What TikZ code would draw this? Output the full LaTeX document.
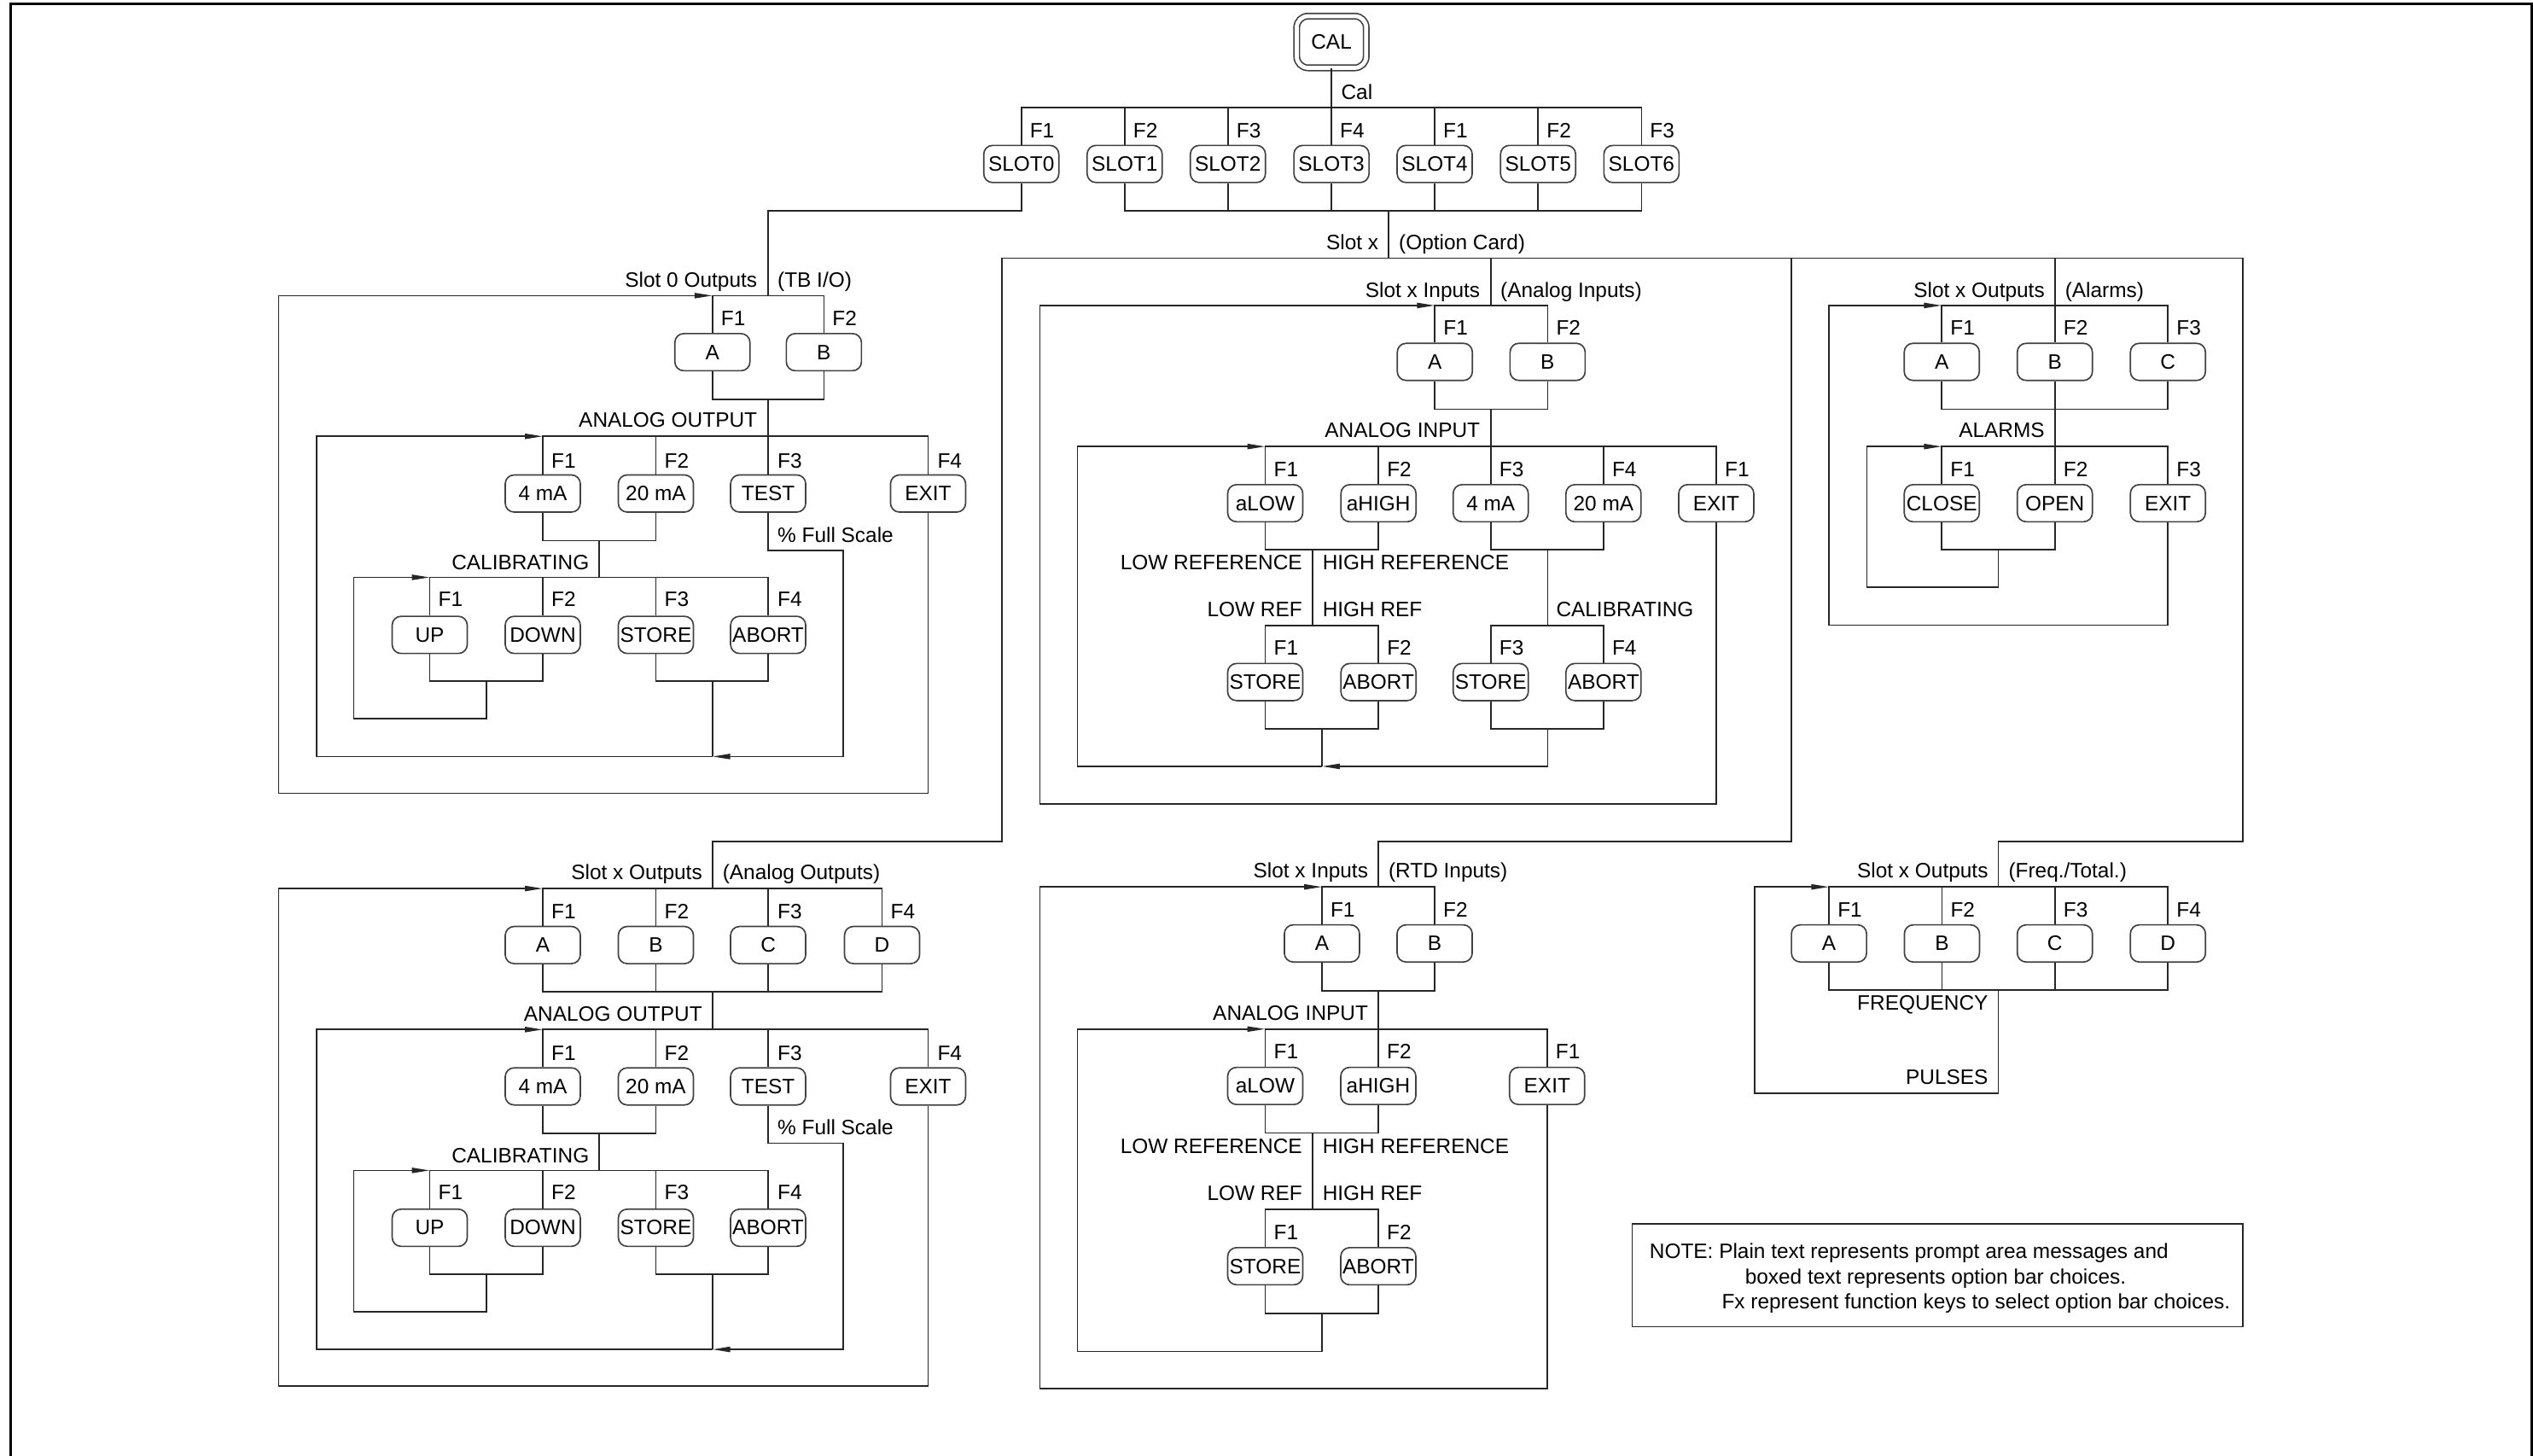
\documentclass[tikz,border=0pt]{standalone}
\usepackage{fontspec}
\setmainfont{Liberation Sans}
\usetikzlibrary{arrows.meta}
\newcommand\fs{\fontsize{7.34pt}{9pt}\selectfont}
\begin{document}
\begin{tikzpicture}[x=0.02cm,y=-0.02cm,
  ln/.style={draw=black!85,line width=0.5pt},
  kbox/.style={draw=black!75,line width=0.5pt,rounded corners=0.11cm,minimum width=0.93cm,minimum height=0.46cm,inner sep=0pt,font=\fs},
  txtW/.style={anchor=base west,inner sep=0pt,yshift=-2.63pt,font=\fs},
  txtE/.style={anchor=base east,inner sep=0pt,yshift=-2.63pt,font=\fs},
  arr/.style={-{Triangle[length=0.22cm,width=0.065cm]}},
  frm/.style={draw=black,line width=0.85pt}]
\useasboundingbox (0,0) rectangle (1568,901);
\draw[frm] (6.6,910) -- (6.6,2.6) -- (1567.2,2.6) -- (1567.2,910);

% ---------------- top ----------------
\node[kbox,double,double distance=0.05cm,minimum width=0.86cm,minimum height=0.64cm,rounded corners=0.14cm] (cal) at (824.2,26) {CAL};
\coordinate (tb) at (824.2,66.7);
\coordinate (bb) at (859.6,130.4);
\foreach \n/\x/\f in {0/632.2/F1,1/696.2/F2,2/760.1/F3,3/824.2/F4,4/888.1/F1,5/952.1/F2,6/1016.1/F3} {
  \node[kbox] (s\n) at (\x,101.5) {SLOT\n};
  \node[txtW] (sf\n) at (\x+5,80.7) {\f};
}
\node[txtW] (calt) at (829.9,57) {Cal};
\draw[ln] (cal) -- (tb);
\draw[ln] (s0.north) |- (tb) -| (s6.north);
\foreach \n in {1,...,5} \draw[ln] (s\n.north) -- (s\n.north |- tb);
\draw[ln] (s1.south) |- (bb) -| (s6.south);
\foreach \n in {2,...,5} \draw[ln] (s\n.south) -- (s\n.south |- bb);

\coordinate (ox) at (859.6,159.8);
\coordinate (bigL) at (620.3,159.8);
\coordinate (bigR) at (1388.4,159.8);
\draw[ln] (bb) -- (ox);
\draw[ln] (bigL) -- (bigR);
\node[txtE] (sxl) at (853.6,150) {Slot x};
\node[txtW] (sxr) at (865.6,150) {(Option Card)};

% ---------------- Slot 0 outputs ----------------
\coordinate (aTop) at (475.5,183);
\draw[ln] (s0.south) |- (475.5,130.4) -- (aTop);
\node[txtE] (ah1) at (469,173) {Slot 0 Outputs};
\node[txtW] (ah2) at (481,173) {(TB I/O)};
\node[kbox] (aA) at (441,218) {A};
\node[kbox] (aB) at (510,218) {B};
\node[txtW] (af1) at (446,197) {F1};
\node[txtW] (af2) at (515,197) {F2};
\draw[ln] (aA.north) |- (aTop) -| (aB.north);
\coordinate (aM) at (475.5,247.2);
\coordinate (aAO) at (475.5,270.1);
\draw[ln] (aA.south) |- (aM) -| (aB.south);
\draw[ln] (aM) -- (aAO);
\node[txtE] (aao) at (469,260) {ANALOG OUTPUT};
\node[kbox] (a4) at (336,305.5) {4 mA};
\node[kbox] (a20) at (406,305.5) {20 mA};
\node[kbox] (aT) at (475.5,305.5) {TEST};
\node[kbox] (aX) at (574.5,305.5) {EXIT};
\node[txtW] (ag1) at (341,285) {F1};
\node[txtW] (ag2) at (411,285) {F2};
\node[txtW] (ag3) at (481,285) {F3};
\node[txtW] (ag4) at (580,285) {F4};
\draw[ln] (a4.north) |- (aAO) -| (aX.north);
\draw[ln] (a20.north) -- (a20.north |- aAO);
\draw[ln] (aT.north) -- (aAO);
\coordinate (aCm) at (371,334.6);
\coordinate (aC) at (371,357.4);
\draw[ln] (a4.south) |- (aCm) -| (a20.south);
\draw[ln] (aCm) -- (aC);
\node[txtE] (acal) at (365,348) {CALIBRATING};
\node[txtW] (afs) at (481,331) {\% Full Scale};
\node[kbox] (aU) at (266,393) {UP};
\node[kbox] (aD) at (336,393) {DOWN};
\node[kbox] (aS) at (406,393) {STORE};
\node[kbox] (aAb) at (475.5,393) {ABORT};
\node[txtW] (ah1f) at (271,371) {F1};
\node[txtW] (ah2f) at (341,371) {F2};
\node[txtW] (ah3f) at (411,371) {F3};
\node[txtW] (ah4f) at (481,371) {F4};
\draw[ln] (aU.north) |- (aC) -| (aAb.north);
\draw[ln] (aD.north) -- (aD.north |- aC);
\draw[ln] (aS.north) -- (aS.north |- aC);
\coordinate (aUD) at (301,421.7);
\coordinate (aSA) at (441,421.7);
\coordinate (aR) at (441,468.3);
\draw[ln] (aU.south) |- (aUD) -| (aD.south);
\draw[ln,arr] (aUD) |- (219,445) |- (aU.north |- aC);
\draw[ln] (aS.south) |- (aSA) -| (aAb.south);
\draw[ln] (aSA) -- (aR);
\draw[ln,arr] (aT.south) |- (522,340.6) |- (aR);
\draw[ln,arr] (aR) -| (196,270.1) -- (a4.north |- aAO);
\draw[ln,arr] (aX.south) |- (172.5,491) |- (aA.north |- aTop);

% ---------------- Slot x analog outputs ----------------
\coordinate (bTop) at (441,550);
\draw[ln] (bigL) -- (620.3,520.8) -| (bTop);
\node[txtE] (bh1) at (435,540) {Slot x Outputs};
\node[txtW] (bh2) at (447,540) {(Analog Outputs)};
\node[kbox] (bA) at (336,585) {A};
\node[kbox] (bB) at (406,585) {B};
\node[kbox] (bCc) at (475.5,585) {C};
\node[kbox] (bDd) at (546,585) {D};
\node[txtW] (bf1) at (341,564) {F1};
\node[txtW] (bf2) at (411,564) {F2};
\node[txtW] (bf3) at (481,564) {F3};
\node[txtW] (bf4) at (551,564) {F4};
\draw[ln] (bA.north) |- (bTop) -| (bDd.north);
\draw[ln] (bB.north) -- (bB.north |- bTop);
\draw[ln] (bCc.north) -- (bCc.north |- bTop);
\coordinate (bM) at (441,613.9);
\coordinate (bAO) at (441,637.3);
\draw[ln] (bA.south) |- (bM) -| (bDd.south);
\draw[ln] (bB.south) -- (bB.south |- bM);
\draw[ln] (bCc.south) -- (bCc.south |- bM);
\draw[ln] (bM) -- (bAO);
\node[txtE] (bao) at (435,627.3) {ANALOG OUTPUT};
\node[kbox] (b4) at (336,672.5) {4 mA};
\node[kbox] (b20) at (406,672.5) {20 mA};
\node[kbox] (bT) at (475.5,672.5) {TEST};
\node[kbox] (bX) at (574.5,672.5) {EXIT};
\node[txtW] (bg1) at (341,652) {F1};
\node[txtW] (bg2) at (411,652) {F2};
\node[txtW] (bg3) at (481,652) {F3};
\node[txtW] (bg4) at (580,652) {F4};
\draw[ln] (b4.north) |- (bAO) -| (bX.north);
\draw[ln] (b20.north) -- (b20.north |- bAO);
\draw[ln] (bT.north) -- (bT.north |- bAO);
\coordinate (bCm) at (371,701.5);
\coordinate (bC) at (371,724.5);
\draw[ln] (b4.south) |- (bCm) -| (b20.south);
\draw[ln] (bCm) -- (bC);
\node[txtE] (bcal) at (365,715) {CALIBRATING};
\node[txtW] (bfs) at (481,698) {\% Full Scale};
\node[kbox] (bU) at (266,760) {UP};
\node[kbox] (bD) at (336,760) {DOWN};
\node[kbox] (bS) at (406,760) {STORE};
\node[kbox] (bAb) at (475.5,760) {ABORT};
\node[txtW] (bh1f) at (271,738) {F1};
\node[txtW] (bh2f) at (341,738) {F2};
\node[txtW] (bh3f) at (411,738) {F3};
\node[txtW] (bh4f) at (481,738) {F4};
\draw[ln] (bU.north) |- (bC) -| (bAb.north);
\draw[ln] (bD.north) -- (bD.north |- bC);
\draw[ln] (bS.north) -- (bS.north |- bC);
\coordinate (bUD) at (301,788.7);
\coordinate (bSA) at (441,788.7);
\coordinate (bR) at (441,835.3);
\draw[ln] (bU.south) |- (bUD) -| (bD.south);
\draw[ln,arr] (bUD) |- (219,812) |- (bU.north |- bC);
\draw[ln] (bS.south) |- (bSA) -| (bAb.south);
\draw[ln] (bSA) -- (bR);
\draw[ln,arr] (bT.south) |- (522,707.6) |- (bR);
\draw[ln,arr] (bR) -| (196,637.3) -- (b4.north |- bAO);
\draw[ln,arr] (bX.south) |- (172.5,858) |- (bA.north |- bTop);

% ---------------- Slot x analog inputs ----------------
\coordinate (cUp) at (922.8,159.8);
\coordinate (cTop) at (922.8,189.1);
\draw[ln] (cUp) -- (cTop);
\node[txtE] (ch1) at (916.5,179.3) {Slot x Inputs};
\node[txtW] (ch2) at (928.5,179.3) {(Analog Inputs)};
\node[kbox] (cA) at (888.2,224) {A};
\node[kbox] (cB) at (958,224) {B};
\node[txtW] (cf1) at (893.2,202.9) {F1};
\node[txtW] (cf2) at (963,202.9) {F2};
\draw[ln] (cA.north) |- (cTop) -| (cB.north);
\coordinate (cM) at (922.8,253.3);
\coordinate (cAI) at (922.8,276.4);
\draw[ln] (cA.south) |- (cM) -| (cB.south);
\draw[ln] (cM) -- (cAI);
\node[txtE] (cai) at (916.5,266) {ANALOG INPUT};
\node[kbox] (cL) at (783.2,311.5) {aLOW};
\node[kbox] (cH) at (853.3,311.5) {aHIGH};
\node[kbox] (c4) at (922.8,311.5) {4 mA};
\node[kbox] (c20) at (992.6,311.5) {20 mA};
\node[kbox] (cX) at (1062.4,311.5) {EXIT};
\node[txtW] (cg1) at (788.2,290.4) {F1};
\node[txtW] (cg2) at (858.3,290.4) {F2};
\node[txtW] (cg3) at (927.8,290.4) {F3};
\node[txtW] (cg4) at (997.6,290.4) {F4};
\node[txtW] (cg5) at (1067.4,290.4) {F1};
\draw[ln] (cL.north) |- (cAI) -| (cX.north);
\draw[ln] (cH.north) -- (cH.north |- cAI);
\draw[ln] (c20.north) -- (c20.north |- cAI);
\draw[ln] (c4.north) -- (cAI);
\coordinate (cLH) at (812.4,340.3);
\coordinate (cRef) at (812.4,387.1);
\draw[ln] (cL.south) |- (cLH) -| (cH.south);
\draw[ln] (cLH) -- (cRef);
\node[txtE] (clr) at (806.4,347.9) {LOW REFERENCE};
\node[txtW] (chr) at (818.4,347.9) {HIGH REFERENCE};
\node[txtE] (clr2) at (806.4,377) {LOW REF};
\node[txtW] (chr2) at (818.4,377) {HIGH REF};
\node[kbox] (cS1) at (783.2,422.2) {STORE};
\node[kbox] (cA1) at (853.3,422.2) {ABORT};
\node[txtW] (ch1f) at (788.2,400.6) {F1};
\node[txtW] (ch2f) at (858.3,400.6) {F2};
\draw[ln] (cS1.north) |- (cRef) -| (cA1.north);
\coordinate (c4m) at (958,340.3);
\coordinate (cCal) at (958,387.1);
\draw[ln] (c4.south) |- (c4m) -| (c20.south);
\draw[ln] (c4m) -- (cCal);
\node[txtW] (ccal) at (963,377) {CALIBRATING};
\node[kbox] (cS2) at (922.8,422.2) {STORE};
\node[kbox] (cA2) at (992.6,422.2) {ABORT};
\node[txtW] (ch3f) at (927.8,400.6) {F3};
\node[txtW] (ch4f) at (997.6,400.6) {F4};
\draw[ln] (cS2.north) |- (cCal) -| (cA2.north);
\coordinate (cB1) at (818.4,451);
\coordinate (cB2) at (958,451);
\coordinate (cR) at (818.4,474.4);
\draw[ln] (cS1.south) |- (cB1) -| (cA1.south);
\draw[ln] (cB1) -- (cR);
\draw[ln] (cS2.south) |- (cB2) -| (cA2.south);
\draw[ln,arr] (cB2) |- (cR);
\draw[ln,arr] (cR) -| (667,276.4) -- (cL.north |- cAI);
\draw[ln,arr] (cX.south) |- (643.7,497.7) |- (cA.north |- cTop);

% ---------------- Slot x alarms ----------------
\coordinate (dUp) at (1272,159.8);
\coordinate (dTop) at (1272,189.1);
\node[txtE] (dh1) at (1266,179.3) {Slot x Outputs};
\node[txtW] (dh2) at (1278,179.3) {(Alarms)};
\node[kbox] (dA) at (1202,224) {A};
\node[kbox] (dB) at (1272,224) {B};
\node[kbox] (dC) at (1342,224) {C};
\node[txtW] (df1) at (1207,202.9) {F1};
\node[txtW] (df2) at (1277,202.9) {F2};
\node[txtW] (df3) at (1347,202.9) {F3};
\draw[ln] (dA.north) |- (dTop) -| (dC.north);
\draw[ln] (dUp) -- (dB.north);
\coordinate (dM) at (1272,253.3);
\coordinate (dAl) at (1272,276.4);
\draw[ln] (dA.south) |- (dM) -| (dC.south);
\draw[ln] (dB.south) -- (dAl);
\node[txtE] (dal) at (1266,266) {ALARMS};
\node[kbox] (dCl) at (1202,311.5) {CLOSE};
\node[kbox] (dO) at (1272,311.5) {OPEN};
\node[kbox] (dX) at (1342,311.5) {EXIT};
\node[txtW] (dg1) at (1207,290.4) {F1};
\node[txtW] (dg2) at (1277,290.4) {F2};
\node[txtW] (dg3) at (1347,290.4) {F3};
\draw[ln] (dCl.north) |- (dAl) -| (dX.north);
\draw[ln] (dO.north) -- (dAl);
\coordinate (dCO) at (1237,340.2);
\draw[ln] (dCl.south) |- (dCO) -| (dO.south);
\draw[ln,arr] (dCO) |- (1155.7,363.6) |- (dCl.north |- dAl);
\draw[ln,arr] (dX.south) |- (1132.2,386.9) |- (dA.north |- dTop);

% ---------------- Slot x RTD inputs ----------------
\coordinate (eUp) at (1109,159.8);
\coordinate (eTop) at (853.2,549);
\draw[ln] (eUp) -- (1109,520.8) -| (eTop);
\node[txtE] (eh1) at (847.2,538.7) {Slot x Inputs};
\node[txtW] (eh2) at (859.2,538.7) {(RTD Inputs)};
\node[kbox] (eA) at (818.3,584) {A};
\node[kbox] (eB) at (888.1,584) {B};
\node[txtW] (ef1) at (823.3,562.9) {F1};
\node[txtW] (ef2) at (893.1,562.9) {F2};
\draw[ln] (eA.north) |- (eTop) -| (eB.north);
\coordinate (eM) at (853.2,613.4);
\coordinate (eAI) at (853.2,637);
\draw[ln] (eA.south) |- (eM) -| (eB.south);
\draw[ln] (eM) -- (eAI);
\node[txtE] (eai) at (847.2,627) {ANALOG INPUT};
\node[kbox] (eL) at (783.2,672.2) {aLOW};
\node[kbox] (eH) at (853.2,672.2) {aHIGH};
\node[kbox] (eX) at (957.7,672.2) {EXIT};
\node[txtW] (eg1) at (788.2,651) {F1};
\node[txtW] (eg2) at (858.2,651) {F2};
\node[txtW] (eg3) at (962.7,651) {F1};
\draw[ln] (eL.north) |- (eAI) -| (eX.north);
\draw[ln] (eH.north) -- (eAI);
\coordinate (eLH) at (812.4,701.4);
\coordinate (eRef) at (812.4,748.6);
\draw[ln] (eL.south) |- (eLH) -| (eH.south);
\draw[ln] (eLH) -- (eRef);
\node[txtE] (elr) at (806.4,709.3) {LOW REFERENCE};
\node[txtW] (ehr) at (818.4,709.3) {HIGH REFERENCE};
\node[txtE] (elr2) at (806.4,738.5) {LOW REF};
\node[txtW] (ehr2) at (818.4,738.5) {HIGH REF};
\node[kbox] (eS) at (783.2,783.8) {STORE};
\node[kbox] (eAb) at (853.2,783.8) {ABORT};
\node[txtW] (eh1f) at (788.2,762.5) {F1};
\node[txtW] (eh2f) at (858.2,762.5) {F2};
\draw[ln] (eS.north) |- (eRef) -| (eAb.north);
\coordinate (eB1) at (818.3,813.2);
\draw[ln] (eS.south) |- (eB1) -| (eAb.south);
\draw[ln,arr] (eB1) |- (666.9,836.5) |- (eL.north |- eAI);
\draw[ln,arr] (eX.south) |- (643.8,859.6) |- (eA.north |- eTop);

% ---------------- Slot x freq/total ----------------
\coordinate (fTop) at (1237,549);
\draw[ln] (bigR) -- (1388.4,520.8) -| (fTop);
\node[txtE] (fh1) at (1231,538.9) {Slot x Outputs};
\node[txtW] (fh2) at (1243,538.9) {(Freq./Total.)};
\node[kbox] (fA) at (1132.2,584) {A};
\node[kbox] (fB) at (1202.1,584) {B};
\node[kbox] (fC) at (1272,584) {C};
\node[kbox] (fD) at (1342,584) {D};
\node[txtW] (ff1) at (1137.2,563) {F1};
\node[txtW] (ff2) at (1207.1,563) {F2};
\node[txtW] (ff3) at (1277,563) {F3};
\node[txtW] (ff4) at (1347,563) {F4};
\draw[ln] (fA.north) |- (fTop) -| (fD.north);
\draw[ln] (fB.north) -- (fB.north |- fTop);
\draw[ln] (fC.north) -- (fC.north |- fTop);
\coordinate (fM) at (1237,613);
\draw[ln] (fA.south) |- (fM) -| (fD.south);
\draw[ln] (fB.south) -- (fB.south |- fM);
\draw[ln] (fC.south) -- (fC.south |- fM);
\draw[ln,arr] (fM) |- (1086,676.8) |- (fA.north |- fTop);
\node[txtE] (ffr) at (1231,620.4) {FREQUENCY};
\node[txtE] (fpu) at (1231,666.7) {PULSES};

% ---------------- note ----------------
\draw[ln] (1010.3,757.7) rectangle (1388.2,821.2);
\node[txtW] (n1) at (1020.8,774.4) {NOTE: Plain text represents prompt area messages and};
\node[txtW] (n2) at (1079.9,790.4) {boxed text represents option bar choices.};
\node[txtW] (n3) at (1065.5,805.5) {Fx represent function keys to select option bar choices.};
\end{tikzpicture}
\end{document}
